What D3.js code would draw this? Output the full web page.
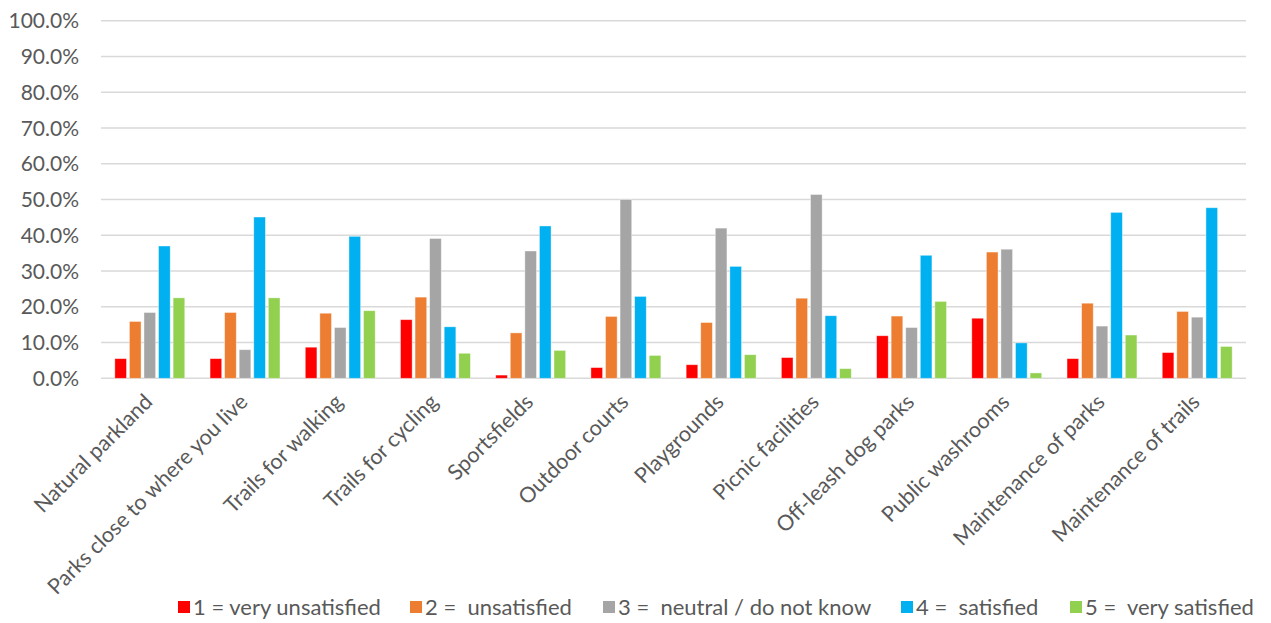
<!DOCTYPE html>
<html><head><meta charset="utf-8">
<script src="https://cdn.jsdelivr.net/npm/d3@7"></script>
<style>
html,body{margin:0;padding:0;background:#fff;}
svg text{font-family:"Lato","Open Sans",sans-serif;fill:#595959;white-space:pre;}
</style></head>
<body><svg id="c" width="1271" height="623"></svg>
<script>
const categories = ["Natural parkland","Parks close to where you live","Trails for walking","Trails for cycling","Sportsfields","Outdoor courts","Playgrounds","Picnic facilities","Off-leash dog parks","Public washrooms","Maintenance of parks","Maintenance of trails"];
const seriesNames = ["1 = very unsatisfied","2 =  unsatisfied","3 =  neutral / do not know","4 =  satisfied","5 =  very satisfied"];
const seriesColors = ["#FF0000","#ED7D31","#A5A5A5","#00B0F0","#92D050"];
const s1 = [5.5,5.5,8.7,16.4,0.9,3.0,3.8,5.8,11.9,16.8,5.5,7.2];
const s2 = [15.9,18.4,18.2,22.7,12.7,17.3,15.6,22.4,17.4,35.3,21.0,18.7];
const s3 = [18.4,8.0,14.2,39.1,35.6,50.0,42.0,51.4,14.2,36.1,14.6,17.1];
const s4 = [37.0,45.1,39.7,14.4,42.6,22.9,31.3,17.5,34.4,9.9,46.4,47.7];
const s5 = [22.5,22.5,18.9,7.0,7.8,6.4,6.6,2.7,21.5,1.5,12.1,8.9];
const yTicks = [0,10,20,30,40,50,60,70,80,90,100];
const legendX = [178,410,603,901,1070];

const allSeries = [s1,s2,s3,s4,s5];
const svg = d3.select("#c");
const L=101, R=1246, T=20.7, B=378.3;
const y = d3.scaleLinear().domain([0,100]).range([B,T]);
const x0 = d3.scaleBand().domain(categories).range([L,R]).paddingInner(0.235).paddingOuter(0.13);
const x1 = d3.scaleBand().domain(d3.range(5)).range([0,x0.bandwidth()]).paddingInner(0.2).paddingOuter(0.1);

svg.append("g").selectAll("line").data(yTicks).join("line")
  .attr("x1",L).attr("x2",R).attr("y1",d=>y(d)).attr("y2",d=>y(d))
  .attr("stroke","#D9D9D9").attr("stroke-width",1.5);

svg.append("g").selectAll("text").data(yTicks).join("text")
  .attr("x",79).attr("y",d=>y(d)).attr("dy","0.36em").attr("text-anchor","end")
  .attr("font-size",21).text(d=>d3.format(".1f")(d)+"%");

const g = svg.append("g");
categories.forEach((c,i)=>{
  g.append("g").attr("transform",`translate(${x0(c)},0)`)
   .selectAll("rect").data(allSeries.map((s,k)=>({k,v:s[i]}))).join("rect")
   .attr("x",d=>x1(d.k)).attr("width",x1.bandwidth())
   .attr("y",d=>y(d.v)).attr("height",d=>y(0)-y(d.v))
   .attr("fill",d=>seriesColors[d.k])
   .attr("stroke","#fff").attr("stroke-opacity",0.5).attr("stroke-width",0.8);
});

svg.append("g").selectAll("text").data(categories).join("text")
  .attr("transform",d=>`translate(${x0(d)+x0.bandwidth()/2+4},${B+25}) rotate(-45)`)
  .attr("text-anchor","end").attr("font-size",21.5).text(d=>d);

const lg = svg.append("g").selectAll("g").data(seriesNames).join("g")
  .attr("transform",(d,i)=>`translate(${legendX[i]},601)`);
lg.append("rect").attr("width",12).attr("height",12).attr("fill",(d,i)=>seriesColors[i]);
lg.append("text").attr("x",15).attr("y",14).attr("font-size",22).text(d=>d);
</script></body></html>
